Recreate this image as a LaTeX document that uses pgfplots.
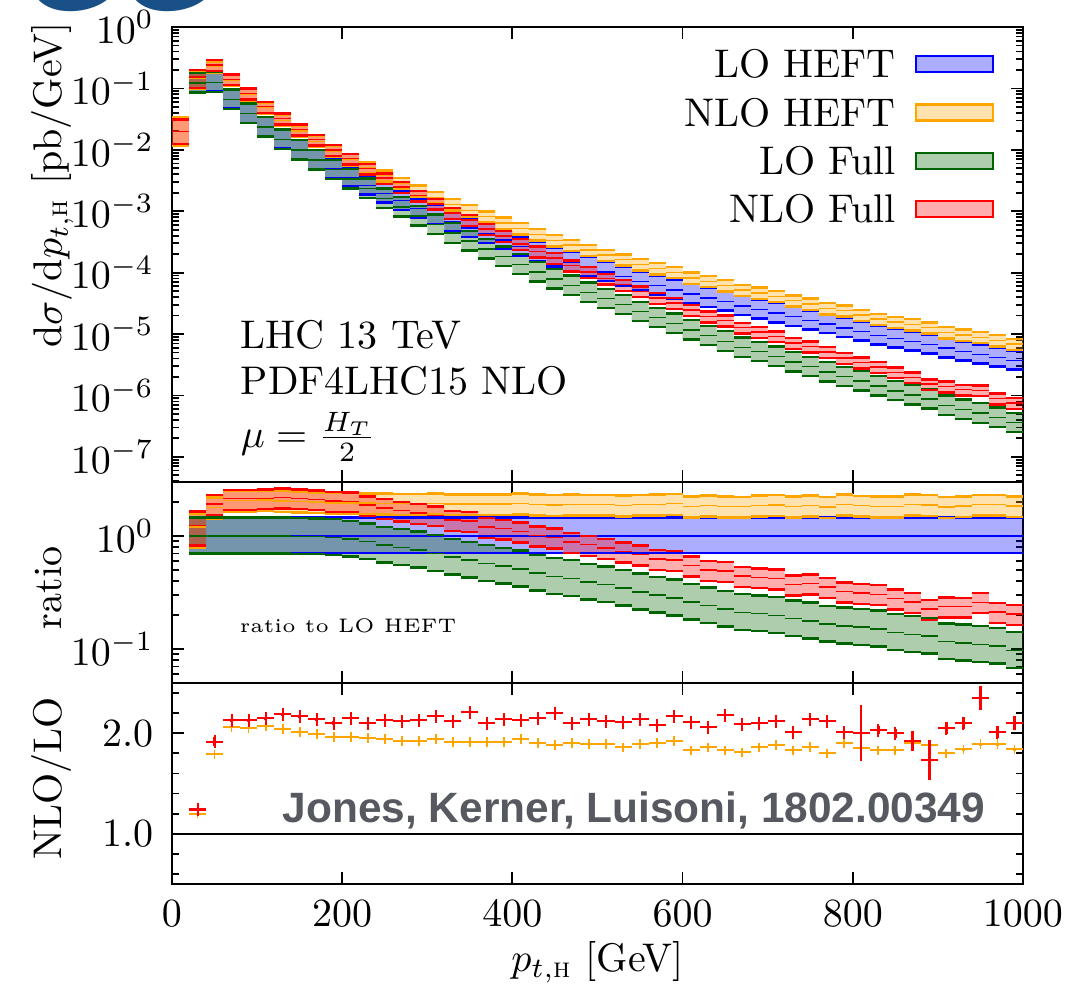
\documentclass[border=0pt]{standalone}
\usepackage{amsmath}
\usepackage{fontspec}
\usepackage{pgfplots}
\usepackage{pgfplotstable}
\pgfplotsset{compat=1.18}
\usepgfplotslibrary{fillbetween}
\newfontfamily\jkl{Liberation Sans}
\definecolor{cLH}{RGB}{0,0,255}
\definecolor{cNH}{RGB}{255,165,0}
\definecolor{cLF}{RGB}{0,100,0}
\definecolor{cNF}{RGB}{255,0,0}
\definecolor{jkgray}{RGB}{86,90,96}
\definecolor{blob}{RGB}{24,80,135}

% ---------------- top panel: dsigma/dpT [pb/GeV] ----------------
\pgfplotstableread{
x c lo hi
20 0.123 0.0873 0.178
40 0.126 0.0895 0.183
60 0.0661 0.0469 0.0958
80 0.0389 0.0276 0.0564
100 0.0234 0.0166 0.0339
120 0.0148 0.0105 0.0215
140 0.0100 0.0071 0.0145
160 0.00692 0.00491 0.0100
180 0.00490 0.00348 0.00711
200 0.00355 0.00252 0.00515
220 0.00263 0.00187 0.00381
240 0.00195 0.00138 0.00283
260 0.00148 0.00105 0.00215
280 0.00112 7.95e-4 0.00162
300 8.71e-4 6.18e-4 1.26e-3
320 6.76e-4 4.80e-4 9.80e-4
340 5.37e-4 3.81e-4 7.79e-4
360 4.27e-4 3.03e-4 6.19e-4
380 3.39e-4 2.41e-4 4.92e-4
400 2.69e-4 1.91e-4 3.90e-4
420 2.19e-4 1.55e-4 3.18e-4
440 1.78e-4 1.26e-4 2.58e-4
460 1.48e-4 1.05e-4 2.15e-4
480 1.23e-4 8.73e-5 1.78e-4
500 1.02e-4 7.24e-5 1.48e-4
520 8.71e-5 6.18e-5 1.26e-4
540 7.24e-5 5.14e-5 1.05e-4
560 6.17e-5 4.38e-5 8.95e-5
580 5.25e-5 3.73e-5 7.61e-5
600 4.47e-5 3.17e-5 6.48e-5
620 3.89e-5 2.76e-5 5.64e-5
640 3.39e-5 2.41e-5 4.92e-5
660 2.88e-5 2.04e-5 4.18e-5
680 2.51e-5 1.78e-5 3.64e-5
700 2.19e-5 1.55e-5 3.18e-5
720 1.91e-5 1.36e-5 2.77e-5
740 1.66e-5 1.18e-5 2.41e-5
760 1.45e-5 1.03e-5 2.10e-5
780 1.26e-5 8.95e-6 1.83e-5
800 1.10e-5 7.81e-6 1.60e-5
820 9.55e-6 6.78e-6 1.38e-5
840 8.51e-6 6.04e-6 1.23e-5
860 7.59e-6 5.39e-6 1.10e-5
880 6.76e-6 4.80e-6 9.80e-6
900 5.89e-6 4.18e-6 8.54e-6
920 5.25e-6 3.73e-6 7.61e-6
940 4.68e-6 3.32e-6 6.79e-6
960 4.17e-6 2.96e-6 6.05e-6
980 3.72e-6 2.64e-6 5.39e-6
1000 3.72e-6 2.64e-6 5.39e-6
}\tLH

\pgfplotstableread{
x c lo hi
0 0.020 0.0118 0.034
20 0.148 0.0977 0.195
40 0.226 0.181 0.275
60 0.136 0.109 0.166
80 0.0797 0.0638 0.0973
100 0.0484 0.0388 0.0591
120 0.0302 0.0242 0.0368
140 0.0201 0.0161 0.0245
160 0.0138 0.0110 0.0168
180 0.00960 0.00768 0.0117
200 0.00696 0.00557 0.00849
220 0.00513 0.00410 0.00626
240 0.00378 0.00303 0.00462
260 0.00285 0.00228 0.00348
280 0.00216 0.00172 0.00263
300 1.69e-3 1.35e-3 2.06e-3
320 1.29e-3 1.03e-3 1.58e-3
340 1.03e-3 8.21e-4 1.25e-3
360 8.16e-4 6.52e-4 9.95e-4
380 6.47e-4 5.18e-4 7.90e-4
400 5.22e-4 4.17e-4 6.37e-4
420 4.16e-4 3.33e-4 5.08e-4
440 3.35e-4 2.68e-4 4.08e-4
460 2.81e-4 2.25e-4 3.43e-4
480 2.32e-4 1.86e-4 2.84e-4
500 1.93e-4 1.54e-4 2.35e-4
520 1.62e-4 1.30e-4 1.98e-4
540 1.37e-4 1.09e-4 1.67e-4
560 1.17e-4 9.38e-5 1.43e-4
580 1.01e-4 8.09e-5 1.23e-4
600 8.18e-5 6.54e-5 9.98e-5
620 7.24e-5 5.79e-5 8.83e-5
640 6.20e-5 4.96e-5 7.57e-5
660 5.21e-5 4.17e-5 6.36e-5
680 4.67e-5 3.74e-5 5.70e-5
700 4.12e-5 3.29e-5 5.02e-5
720 3.50e-5 2.80e-5 4.26e-5
740 3.10e-5 2.48e-5 3.78e-5
760 2.61e-5 2.09e-5 3.18e-5
780 2.40e-5 1.92e-5 2.93e-5
800 2.04e-5 1.63e-5 2.48e-5
820 1.75e-5 1.40e-5 2.13e-5
840 1.56e-5 1.25e-5 1.90e-5
860 1.44e-5 1.15e-5 1.76e-5
880 1.27e-5 1.02e-5 1.55e-5
900 1.06e-5 8.48e-6 1.29e-5
920 9.66e-6 7.73e-6 1.18e-5
940 8.85e-6 7.08e-6 1.08e-5
960 7.88e-6 6.31e-6 9.61e-6
980 6.84e-6 5.48e-6 8.35e-6
1000 6.84e-6 5.48e-6 8.35e-6
}\tNH

\pgfplotstableread{
x c lo hi
20 0.123 0.0861 0.178
40 0.126 0.0882 0.183
60 0.0661 0.0463 0.0958
80 0.0389 0.0272 0.0564
100 0.0234 0.0164 0.0339
120 0.0148 0.0104 0.0215
140 0.0099 0.00693 0.0144
160 0.00682 0.00477 0.00989
180 0.00475 0.00333 0.00689
200 0.00334 0.00234 0.00484
220 0.00234 0.00164 0.00339
240 0.00162 0.00113 0.00235
260 0.00117 8.19e-4 1.70e-3
280 8.40e-4 5.88e-4 1.22e-3
300 6.10e-4 4.27e-4 8.84e-4
320 4.39e-4 3.07e-4 6.37e-4
340 3.28e-4 2.29e-4 4.75e-4
360 2.43e-4 1.70e-4 3.53e-4
380 1.83e-4 1.28e-4 2.65e-4
400 1.37e-4 9.60e-5 1.99e-4
420 1.03e-4 7.21e-5 1.49e-4
440 7.83e-5 5.48e-5 1.14e-4
460 6.22e-5 4.35e-5 9.01e-5
480 4.80e-5 3.36e-5 6.96e-5
500 3.77e-5 2.64e-5 5.47e-5
520 3.00e-5 2.10e-5 4.36e-5
540 2.32e-5 1.62e-5 3.36e-5
560 1.85e-5 1.30e-5 2.68e-5
580 1.49e-5 1.04e-5 2.15e-5
600 1.16e-5 8.14e-6 1.69e-5
620 9.41e-6 6.59e-6 1.36e-5
640 7.63e-6 5.34e-6 1.11e-5
660 6.08e-6 4.25e-6 8.81e-6
680 5.15e-6 3.60e-6 7.46e-6
700 4.34e-6 3.04e-6 6.29e-6
720 3.53e-6 2.47e-6 5.12e-6
740 2.94e-6 2.06e-6 4.26e-6
760 2.41e-6 1.68e-6 3.49e-6
780 2.02e-6 1.41e-6 2.92e-6
800 1.72e-6 1.20e-6 2.49e-6
820 1.43e-6 1.00e-6 2.08e-6
840 1.19e-6 8.34e-7 1.73e-6
860 1.02e-6 7.17e-7 1.49e-6
880 8.79e-7 6.15e-7 1.27e-6
900 6.83e-7 4.78e-7 9.91e-7
920 5.93e-7 4.15e-7 8.60e-7
940 5.15e-7 3.60e-7 7.46e-7
960 4.42e-7 3.09e-7 6.41e-7
980 3.61e-7 2.53e-7 5.23e-7
1000 3.61e-7 2.53e-7 5.23e-7
}\tLF

\pgfplotstableread{
x c lo hi
0 0.020 0.0125 0.031
20 0.153 0.101 0.201
40 0.241 0.193 0.290
60 0.141 0.113 0.169
80 0.0829 0.0663 0.0994
100 0.0503 0.0402 0.0604
120 0.0324 0.0259 0.0389
140 0.0215 0.0172 0.0258
160 0.0146 0.0117 0.0175
180 0.0100 0.00800 0.0120
200 0.00717 0.00574 0.00860
220 0.00492 0.00394 0.00590
240 0.00345 0.00276 0.00414
260 0.00247 0.00198 0.00296
280 0.00179 0.00143 0.00215
300 1.32e-3 1.06e-3 1.59e-3
320 9.33e-4 7.46e-4 1.12e-3
340 7.25e-4 5.80e-4 8.70e-4
360 5.12e-4 4.10e-4 6.15e-4
380 3.93e-4 3.15e-4 4.72e-4
400 2.93e-4 2.35e-4 3.52e-4
420 2.21e-4 1.77e-4 2.65e-4
440 1.72e-4 1.38e-4 2.07e-4
460 1.31e-4 1.04e-4 1.57e-4
480 1.03e-4 8.22e-5 1.23e-4
500 8.00e-5 6.40e-5 9.60e-5
520 6.34e-5 5.07e-5 7.61e-5
540 4.96e-5 3.97e-5 5.95e-5
560 3.85e-5 3.08e-5 4.62e-5
580 3.22e-5 2.58e-5 3.87e-5
600 2.45e-5 1.96e-5 2.94e-5
620 1.94e-5 1.55e-5 2.33e-5
640 1.66e-5 1.33e-5 2.00e-5
660 1.27e-5 1.02e-5 1.52e-5
680 1.08e-5 8.65e-6 1.30e-5
700 9.20e-6 7.36e-6 1.10e-5
720 7.11e-6 5.68e-6 8.53e-6
740 6.29e-6 5.03e-6 7.55e-6
760 5.10e-6 4.08e-6 6.12e-6
780 4.06e-6 3.25e-6 4.87e-6
800 3.43e-6 2.75e-6 4.12e-6
820 2.91e-6 2.33e-6 3.50e-6
840 2.38e-6 1.91e-6 2.86e-6
860 1.97e-6 1.58e-6 2.37e-6
880 1.53e-6 1.22e-6 1.83e-6
900 1.40e-6 1.12e-6 1.68e-6
920 1.24e-6 9.95e-7 1.49e-6
940 1.21e-6 9.70e-7 1.45e-6
960 8.88e-7 7.11e-7 1.07e-6
980 7.59e-7 6.07e-7 9.11e-7
1000 7.59e-7 6.07e-7 9.11e-7
}\tNF

% ---------------- middle panel: ratio to LO HEFT ----------------
\pgfplotstableread{
x c lo hi
20 1 0.71 1.45
40 1 0.71 1.45
60 1 0.71 1.45
80 1 0.71 1.45
100 1 0.71 1.45
120 1 0.71 1.45
140 1 0.71 1.45
160 1 0.71 1.45
180 1 0.71 1.45
200 1 0.71 1.45
220 1 0.71 1.45
240 1 0.71 1.45
260 1 0.71 1.45
280 1 0.71 1.45
300 1 0.71 1.45
320 1 0.71 1.45
340 1 0.71 1.45
360 1 0.71 1.45
380 1 0.71 1.45
400 1 0.71 1.45
420 1 0.71 1.45
440 1 0.71 1.45
460 1 0.71 1.45
480 1 0.71 1.45
500 1 0.71 1.45
520 1 0.71 1.45
540 1 0.71 1.45
560 1 0.71 1.45
580 1 0.71 1.45
600 1 0.71 1.45
620 1 0.71 1.45
640 1 0.71 1.45
660 1 0.71 1.45
680 1 0.71 1.45
700 1 0.71 1.45
720 1 0.71 1.45
740 1 0.71 1.45
760 1 0.71 1.45
780 1 0.71 1.45
800 1 0.71 1.45
820 1 0.71 1.45
840 1 0.71 1.45
860 1 0.71 1.45
880 1 0.71 1.45
900 1 0.71 1.45
920 1 0.71 1.45
940 1 0.71 1.45
960 1 0.71 1.45
980 1 0.71 1.45
1000 1 0.71 1.45
}\rLH

\pgfplotstableread{
x c lo hi
20 1.20 0.79 1.58
40 1.79 1.43 2.18
60 2.06 1.65 2.51
80 2.05 1.64 2.50
100 2.07 1.66 2.53
120 2.04 1.63 2.49
140 2.01 1.61 2.45
160 1.99 1.59 2.43
180 1.96 1.57 2.39
200 1.96 1.57 2.39
220 1.95 1.56 2.38
240 1.94 1.55 2.37
260 1.925 1.54 2.35
280 1.925 1.54 2.35
300 1.94 1.55 2.37
320 1.91 1.53 2.33
340 1.91 1.53 2.33
360 1.91 1.53 2.33
380 1.91 1.53 2.33
400 1.94 1.55 2.37
420 1.90 1.52 2.32
440 1.88 1.50 2.29
460 1.90 1.52 2.32
480 1.89 1.51 2.31
500 1.89 1.51 2.31
520 1.86 1.49 2.27
540 1.89 1.51 2.31
560 1.90 1.52 2.32
580 1.925 1.54 2.35
600 1.83 1.46 2.23
620 1.86 1.49 2.27
640 1.83 1.46 2.23
660 1.81 1.45 2.21
680 1.86 1.49 2.27
700 1.88 1.50 2.29
720 1.83 1.46 2.23
740 1.865 1.49 2.28
760 1.80 1.44 2.20
780 1.905 1.52 2.32
800 1.85 1.48 2.26
820 1.83 1.46 2.23
840 1.83 1.46 2.23
860 1.90 1.52 2.32
880 1.88 1.50 2.29
900 1.80 1.44 2.20
920 1.84 1.47 2.24
940 1.89 1.51 2.31
960 1.89 1.51 2.31
980 1.84 1.47 2.24
1000 1.84 1.47 2.24
}\rNH

\pgfplotstableread{
x c lo hi
20 1.0 0.70 1.45
40 1.0 0.70 1.45
60 1.0 0.70 1.45
80 1.0 0.70 1.45
100 1.0 0.70 1.45
120 1.0 0.70 1.45
140 0.99 0.693 1.44
160 0.985 0.690 1.43
180 0.97 0.679 1.41
200 0.94 0.658 1.36
220 0.89 0.623 1.29
240 0.83 0.581 1.20
260 0.79 0.553 1.15
280 0.75 0.525 1.09
300 0.70 0.490 1.02
320 0.65 0.455 0.943
340 0.61 0.427 0.885
360 0.57 0.399 0.827
380 0.54 0.378 0.783
400 0.51 0.357 0.740
420 0.47 0.329 0.682
440 0.44 0.308 0.638
460 0.42 0.294 0.609
480 0.39 0.273 0.566
500 0.37 0.259 0.537
520 0.345 0.242 0.500
540 0.32 0.224 0.464
560 0.30 0.210 0.435
580 0.283 0.198 0.410
600 0.26 0.182 0.377
620 0.242 0.169 0.351
640 0.225 0.158 0.326
660 0.211 0.148 0.306
680 0.205 0.144 0.297
700 0.198 0.139 0.287
720 0.185 0.130 0.268
740 0.177 0.124 0.257
760 0.166 0.116 0.241
780 0.16 0.112 0.232
800 0.156 0.109 0.226
820 0.15 0.105 0.218
840 0.14 0.098 0.203
860 0.135 0.0945 0.196
880 0.13 0.091 0.189
900 0.116 0.0812 0.168
920 0.113 0.0791 0.164
940 0.11 0.077 0.160
960 0.106 0.0742 0.154
980 0.097 0.0679 0.141
1000 0.097 0.0679 0.141
}\rLF

\pgfplotstableread{
x c lo hi
20 1.24 0.82 1.64
40 1.915 1.53 2.30
60 2.13 1.70 2.56
80 2.13 1.70 2.56
100 2.15 1.72 2.58
120 2.19 1.75 2.63
140 2.15 1.72 2.58
160 2.11 1.69 2.53
180 2.04 1.63 2.45
200 2.02 1.62 2.42
220 1.87 1.50 2.24
240 1.77 1.42 2.12
260 1.67 1.34 2.00
280 1.60 1.28 1.92
300 1.52 1.22 1.82
320 1.38 1.10 1.66
340 1.35 1.08 1.62
360 1.20 0.96 1.44
380 1.16 0.928 1.39
400 1.09 0.872 1.31
420 1.01 0.808 1.21
440 0.968 0.774 1.16
460 0.882 0.706 1.06
480 0.835 0.668 1.00
500 0.784 0.627 0.941
520 0.728 0.582 0.874
540 0.685 0.548 0.822
560 0.624 0.499 0.749
580 0.614 0.491 0.737
600 0.549 0.439 0.659
620 0.499 0.399 0.599
640 0.491 0.393 0.589
660 0.441 0.353 0.529
680 0.431 0.345 0.517
700 0.420 0.336 0.504
720 0.372 0.298 0.446
740 0.379 0.303 0.455
760 0.352 0.282 0.422
780 0.322 0.258 0.386
800 0.312 0.250 0.374
820 0.305 0.244 0.366
840 0.280 0.224 0.336
860 0.260 0.208 0.312
880 0.226 0.181 0.271
900 0.238 0.190 0.286
920 0.237 0.190 0.284
940 0.259 0.207 0.311
960 0.213 0.170 0.256
980 0.204 0.163 0.245
1000 0.204 0.163 0.245
}\rNF

% ---------------- bottom panel: NLO/LO ----------------
\pgfplotstableread{
x r re o oe
30 1.24 0.015 1.20 0.008
50 1.915 0.045 1.79 0.008
70 2.13 0.015 2.06 0.006
90 2.13 0.015 2.05 0.006
110 2.15 0.015 2.07 0.006
130 2.19 0.015 2.04 0.006
150 2.17 0.015 2.01 0.006
170 2.14 0.015 1.99 0.006
190 2.10 0.02 1.96 0.006
210 2.15 0.02 1.96 0.006
230 2.10 0.02 1.95 0.006
250 2.13 0.025 1.94 0.006
270 2.12 0.025 1.925 0.006
290 2.13 0.025 1.925 0.006
310 2.17 0.025 1.94 0.01
330 2.12 0.025 1.91 0.006
350 2.21 0.04 1.91 0.006
370 2.10 0.03 1.91 0.006
390 2.14 0.025 1.91 0.006
410 2.13 0.025 1.94 0.008
430 2.15 0.025 1.90 0.008
450 2.20 0.035 1.88 0.008
470 2.10 0.035 1.90 0.01
490 2.14 0.03 1.89 0.01
510 2.12 0.03 1.89 0.01
530 2.11 0.03 1.86 0.01
550 2.14 0.04 1.89 0.01
570 2.08 0.03 1.90 0.01
590 2.17 0.04 1.925 0.01
610 2.11 0.04 1.83 0.01
630 2.06 0.035 1.86 0.01
650 2.18 0.04 1.83 0.01
670 2.09 0.035 1.81 0.01
690 2.10 0.03 1.86 0.01
710 2.12 0.035 1.88 0.01
730 2.01 0.04 1.83 0.01
750 2.14 0.04 1.865 0.01
770 2.12 0.04 1.80 0.01
790 2.01 0.05 1.905 0.015
810 2.00 0.28 1.85 0.02
830 2.03 0.04 1.83 0.015
850 2.00 0.045 1.83 0.015
870 1.925 0.1 1.90 0.02
890 1.735 0.2 1.88 0.03
910 2.05 0.06 1.80 0.015
930 2.10 0.06 1.84 0.015
950 2.35 0.12 1.89 0.015
970 2.01 0.06 1.89 0.015
990 2.10 0.07 1.84 0.015
}\tK

\pgfplotsset{
  swatch/.style={legend image code/.code={\draw[draw=#1, fill=#1, fill opacity=0.32, line width=0.6pt] (0pt,-2pt) rectangle (19.25pt,2pt);}},
  panel/.style={
    scale only axis, width=212.75pt, xmin=0, xmax=1000,
    axis line style={line width=0.6pt},
    every tick/.style={black, line width=0.45pt},
    major tick length=3pt, minor tick length=1.75pt,
    xtick={0,200,400,600,800,1000},
    tick label style={font=\fontsize{10}{12}\selectfont, /pgf/number format/1000 sep={}},
    yticklabel style={xshift=-1pt},
    xticklabel style={yshift=-0.7pt},
    clip mode=individual,
  },
}

\newcommand{\band}[3]{%
  \addplot[draw=none, const plot mark left, name path=#1u, forget plot] table[x=x,y=hi]{#2};
  \addplot[draw=none, const plot mark left, name path=#1l, forget plot] table[x=x,y=lo]{#2};
  \addplot[draw=none, fill=#3, fill opacity=0.32, forget plot] fill between[of=#1u and #1l];
  \addplot[#3, jump mark left, line width=0.6pt, forget plot] table[x=x,y=hi]{#2};
  \addplot[#3, jump mark left, line width=0.6pt, forget plot] table[x=x,y=lo]{#2};
  \addplot[#3, jump mark left, line width=0.35pt, forget plot] table[x=x,y=c]{#2};
}

\begin{document}
\begin{tikzpicture}

% ---------- top ----------
\begin{axis}[panel, name=top, at={(0pt,100.5pt)}, anchor=south west, height=113.75pt,
  ymode=log, ymin=3.9e-8, ymax=1,
  ytick={1e-7,1e-6,1e-5,1e-4,1e-3,1e-2,1e-1,1},
  minor ytick={4e-8,5e-8,6e-8,7e-8,8e-8,9e-8,
    2e-7,3e-7,4e-7,5e-7,6e-7,7e-7,8e-7,9e-7,
    2e-6,3e-6,4e-6,5e-6,6e-6,7e-6,8e-6,9e-6,
    2e-5,3e-5,4e-5,5e-5,6e-5,7e-5,8e-5,9e-5,
    2e-4,3e-4,4e-4,5e-4,6e-4,7e-4,8e-4,9e-4,
    2e-3,3e-3,4e-3,5e-3,6e-3,7e-3,8e-3,9e-3,
    2e-2,3e-2,4e-2,5e-2,6e-2,7e-2,8e-2,9e-2,
    0.2,0.3,0.4,0.5,0.6,0.7,0.8,0.9},
  xticklabels={},
  legend plot pos=right, legend cell align=right,
  legend style={draw=none, fill=none, inner sep=0pt, at={(rel axis cs:1,1)}, anchor=north east,
    xshift=-7pt, yshift=-5.7pt, font=\fontsize{10}{12}\selectfont,
    row sep=5.25pt, column sep=4.75pt,
    nodes={inner sep=0pt, text height=6.83pt, text depth=0pt}},
]
\band{tLH}{\tLH}{cLH}
\band{tNH}{\tNH}{cNH}
\band{tLF}{\tLF}{cLF}
\band{tNF}{\tNF}{cNF}
\addlegendimage{swatch=cLH}\addlegendentry{LO HEFT}
\addlegendimage{swatch=cNH}\addlegendentry{NLO HEFT}
\addlegendimage{swatch=cLF}\addlegendentry{LO Full}
\addlegendimage{swatch=cNF}\addlegendentry{NLO Full}
\end{axis}

% ---------- middle ----------
\begin{axis}[panel, name=mid, at={(0pt,50.25pt)}, anchor=south west, height=50.25pt,
  ymode=log, ymin=0.05, ymax=3,
  ytick={0.1,1},
  minor ytick={0.05,0.06,0.07,0.08,0.09,0.2,0.3,0.4,0.5,0.6,0.7,0.8,0.9,2,3},
  xticklabels={},
]
\band{mLH}{\rLH}{cLH}
\band{mNH}{\rNH}{cNH}
\band{mLF}{\rLF}{cLF}
\band{mNF}{\rNF}{cNF}
\end{axis}

% ---------- bottom ----------
\begin{axis}[panel, name=bot, at={(0pt,0pt)}, anchor=south west, height=50.25pt,
  ymin=0.5, ymax=2.5,
  ytick={1,2}, yticklabels={1.0,2.0},
  minor ytick={0.6,0.8,1.2,1.4,1.6,1.8,2.2,2.4},
]
\addplot[black, line width=0.6pt, forget plot] coordinates {(0,1) (1000,1)};
\addplot[cNH, only marks, mark=|, mark size=1.2pt, mark options={line width=0.45pt}, forget plot,
  error bars/.cd, x dir=both, x fixed=10, y dir=both, y explicit, error mark=none,
  error bar style={line width=0.55pt}] table[x=x, y=o, y error=oe]{\tK};
\addplot[cNF, only marks, mark=|, mark size=1.6pt, mark options={line width=0.5pt}, forget plot,
  error bars/.cd, x dir=both, x fixed=10, y dir=both, y explicit, error mark=none,
  error bar style={line width=0.6pt}] table[x=x, y=r, y error=re]{\tK};
\end{axis}

% ---------- labels and annotations ----------
\node[rotate=90, anchor=base] at ([xshift=-27.5pt, yshift=74.25pt]top.south west)
  {$\mathrm{d}\sigma/\mathrm{d}p_{t,\textsc{h}}$ [pb/GeV]};
\node[rotate=90, anchor=base] at ([xshift=-27.5pt, yshift=23.75pt]mid.south west) {ratio};
\node[rotate=90, anchor=base] at ([xshift=-27.5pt, yshift=26.4pt]bot.south west) {NLO/LO};
\node[anchor=base] at ([yshift=-22pt]bot.south) {$p_{t,\textsc{h}}$ [GeV]};

\node[anchor=base west, inner sep=0pt] at ([xshift=17pt, yshift=33.4pt]top.south west) {LHC 13 TeV};
\node[anchor=base west, inner sep=0pt] at ([xshift=17pt, yshift=21.9pt]top.south west) {PDF4LHC15 NLO};
\node[anchor=base west, inner sep=0pt] at ([xshift=17pt, yshift=8.6pt]top.south west) {$\mu = \frac{H_T}{2}$};

\node[anchor=base west, inner sep=0pt, font=\fontsize{4.9}{6}\selectfont] at ([xshift=16.75pt, yshift=12.6pt]mid.south west) {ratio to LO HEFT};

\node[anchor=base west, inner sep=0pt, text=jkgray, font=\jkl\bfseries\fontsize{10.6}{12}\selectfont]
  at ([xshift=27.5pt, yshift=15.3pt]bot.south west) {Jones, Kerner, Luisoni, 1802.00349};

\node[anchor=base west, inner sep=0pt, text=blob, font=\jkl\bfseries\fontsize{31}{33}\selectfont]
  at (-37.5pt,218.4pt) {GG};

\pgfresetboundingbox
\path[use as bounding box] (-43pt,-25pt) rectangle (228.5pt,221pt);
\end{tikzpicture}
\end{document}
